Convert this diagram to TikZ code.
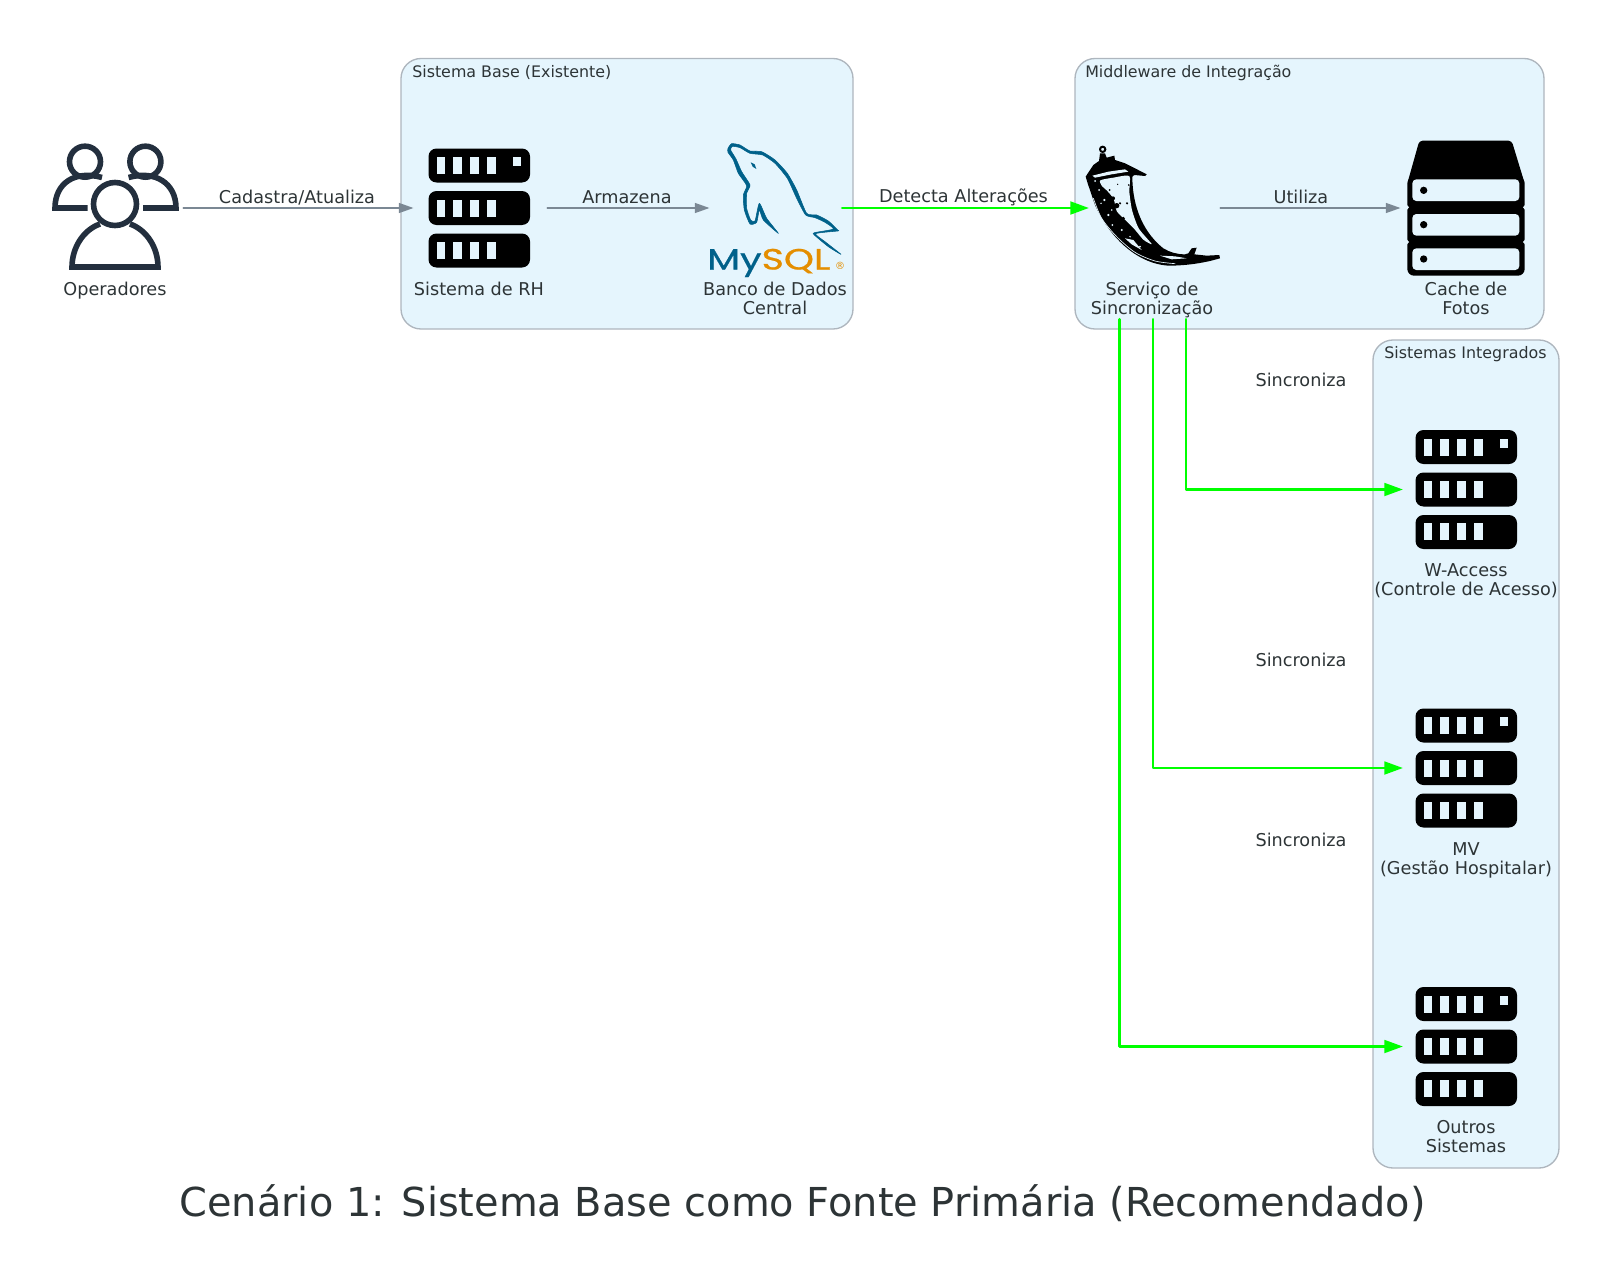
\documentclass[tikz,border=0pt]{standalone}
\usepackage{fontspec}
\setmainfont{DejaVu Sans}
\newfontfamily\logofont[FakeBold=0.7]{Poppins}
\usepackage{tikz}
\usetikzlibrary{arrows.meta,calc,positioning}
\definecolor{clusterfill}{HTML}{E5F5FD}
\definecolor{clusterline}{HTML}{AEB6BE}
\definecolor{labeltext}{HTML}{2D3436}
\definecolor{greyarrow}{HTML}{7B8894}
\definecolor{personblue}{HTML}{232F3E}
\definecolor{mysqlblue}{HTML}{00618A}
\definecolor{mysqlorange}{HTML}{E48E00}
\definecolor{syncgreen}{HTML}{00FF00}
\tikzset{
  clusterbox/.style={draw=clusterline,fill=clusterfill,line width=1pt,rounded corners=15pt},
  clusterlabel/.style={anchor=west,inner sep=0pt,text=labeltext,font=\fontsize{11.9}{14}\selectfont,text height=9pt,text depth=2.5pt},
  iconbox/.style={inner sep=0pt,minimum width=100.5pt,minimum height=166.5pt},
  nodelabel/.style={anchor=north,inner sep=0pt,text=labeltext,align=center,font=\fontsize{13.25}{14.2}\selectfont},
  edgelabel/.style={inner sep=0pt,text=labeltext,font=\fontsize{13.25}{14}\selectfont,text height=9.7pt,text depth=2.7pt},
  greyline/.style={draw=greyarrow,line width=1pt,shorten <=0.7pt,shorten >=-1.3pt,-{Triangle[length=11pt,width=7.5pt]}},
  syncline/.style={draw=syncgreen,line width=2.1pt,shorten >=-3.2pt,-{Triangle[length=14pt,width=9.5pt]}}
}
\newcommand{\servericon}[1]{
  \begin{scope}[shift={(#1)}]
    \foreach \racky in {-59.5,-17,25.5}
      \fill [black,rounded corners=6pt] (-50.5,\racky) rectangle (51,\racky+34);
    \foreach \racky in {-50.7,-8.5,33.7}
      \foreach \winx in {-42.5,-25.6,-8.8,8}
        \fill [clusterfill] (\winx,\racky) rectangle (\winx+8.6,\racky+17);
    \fill [clusterfill] (33.5,-50.7) rectangle (42,-42);
  \end{scope}
}
\begin{document}
\begin{tikzpicture}[x=0.75pt,y=-0.75pt,line cap=round,line join=round]
  \useasboundingbox (0,0) rectangle (1607,1281);
  % clusters
  \draw [clusterbox] (401,58.5) rectangle (853,329);
  \draw [clusterbox] (1075,58.5) rectangle (1544,329);
  \draw [clusterbox] (1373,340) rectangle (1559,1168);
  \node [clusterlabel] (baselabel) at (412,73) {Sistema Base (Existente)};
  \node [clusterlabel] (middlelabel) at (1085,73) {Middleware de Integração};
  \node [clusterlabel] (integradoslabel) at (1384,354.5) {Sistemas Integrados};
  % icon places
  \node [iconbox] (operadores) at (115,208) {};
  \node [iconbox] (rh) at (479,208) {};
  \node [iconbox] (mysql) at (775,208) {};
  \node [iconbox] (flask) at (1152,208) {};
  \node [iconbox] (cache) at (1466,208) {};
  \node [iconbox] (waccess) at (1466,489.5) {};
  \node [iconbox] (mv) at (1466,768) {};
  \node [iconbox] (outros) at (1466,1046.5) {};
  % connectors
  \draw [greyline] (operadores.east) -- node [edgelabel,above=0.4pt] (cadastra) {Cadastra/Atualiza} (rh.west);
  \draw [greyline] (rh.east) -- node [edgelabel,above=0.4pt] (armazena) {Armazena} (mysql.west);
  \draw [syncline] (mysql.east) -- node [edgelabel,above=0.4pt] (detecta) {Detecta Alterações} (flask.west);
  \draw [greyline] (flask.east) -- node [edgelabel,above=0.4pt,pos=0.455] (utiliza) {Utiliza} (cache.west);
  \draw [syncline] ($(flask.south)+(34,0)$) |- (waccess.west);
  \draw [syncline] ($(flask.south)+(1,0)$) |- (mv.west);
  \draw [syncline] ($(flask.south)+(-32.5,0)$) |- (outros.west);
  \node [edgelabel] (syncwaccess) at (1301,382) {Sincroniza};
  \node [edgelabel] (syncmv) at (1301,662) {Sincroniza};
  \node [edgelabel] (syncoutros) at (1301,842) {Sincroniza};
  % servers
  \servericon{rh.center}
  \servericon{waccess.center}
  \servericon{mv.center}
  \servericon{outros.center}
  % operators
  \begin{scope}[shift={(operadores.center)},draw=personblue,line width=4.2pt,line cap=butt,line join=miter]
    \draw (-30,-46.3) circle (15.5);
    \draw (30.4,-46.3) circle (15.5);
    \draw (-13,-30.5) .. controls (-40,-38) and (-60,-25) .. (-60,0) -- (-27.5,0);
    \draw (13.6,-30.5) .. controls (40,-38) and (61,-25) .. (61,0) -- (28,0);
    \draw (0,-4) circle (21.5);
    \draw (-15,16) .. controls (-32,22) and (-43,40) .. (-43,59) -- (43,59) .. controls (43,40) and (32,22) .. (15,16);
  \end{scope}
  % mysql logo
  \begin{scope}[shift={(700,135)},x=0.25pt,y=-0.25pt]
    \filldraw [mysqlblue,line width=0.4pt] plot [smooth cycle,tension=0.35] coordinates {(84,40) (95,26) (120,30) (150,48) (185,50) (225,75) (262,115) (290,165) (320,235) (350,240) (385,258) (413,285) (413,288) (347,296) (375,320) (423,358) (385,335) (343,300) (343,293) (400,282) (375,262) (345,248) (317,240) (290,190) (262,130) (225,85) (188,60) (150,55) (120,38) (97,34) (92,45) (108,72) (125,110) (150,150) (140,175) (140,220) (152,255) (165,258) (178,205) (200,250) (235,295) (190,255) (178,225) (170,262) (150,267) (133,225) (130,180) (140,152) (115,115) (100,75) (84,52)};
    \fill [mysqlblue] (152,82) -- (164,88) -- (169,102) -- (158,95) -- cycle;
  \end{scope}
  \node [inner sep=0pt,anchor=base west] (mysqlword) at (707,269.5) {\scalebox{1.3}[1]{\logofont\fontsize{22}{24}\selectfont\textcolor{mysqlblue}{My}\textcolor{mysqlorange}{SQL}}};
  \node [inner sep=0pt,anchor=center,text=mysqlorange,font=\fontsize{7.5}{8}\selectfont] (mysqlmark) at (840,266) {®};
  % flask horn
  \begin{scope}[shift={(1075,135)},x=0.25pt,y=-0.25pt]
    \draw [black,line width=1.5pt] (83,43) circle (8);
    \fill [black] (72,78) -- (75,55) -- (90,55) -- (95,68) -- (118,62) -- (120,75) -- (150,85) -- (180,100) -- (215,118) -- (210,123) -- (178,120) -- (172,125)
      .. controls (172,190) and (190,280) .. (265,340) .. controls (285,352) and (305,358) .. (330,358) -- (340,355) -- (350,340) -- (365,338) -- (358,358) -- (395,362) -- (433,360) -- (435,370) -- (405,378)
      .. controls (360,388) and (320,392) .. (280,392) .. controls (180,385) and (100,300) .. (60,210) -- (38,145) -- (32,125) -- (45,105) -- (55,90) -- cycle;
    \fill [clusterfill] plot [smooth cycle,tension=0.4] coordinates {(76,136) (115,128) (163,123) (163,170) (171,225) (191,280) (230,327) (205,314) (178,282) (148,252) (125,228) (116,192) (96,167) (80,152)};
    \fill [clusterfill] (52,122) -- (100,110) -- (150,103) -- (160,110) -- (110,118) -- (60,128) -- cycle;
    \draw [clusterfill,line width=0.5pt] plot [smooth,tension=0.5] coordinates {(55,190) (80,250) (125,305) (180,352) (240,378) (300,386)};
    \fill [clusterfill] (150,310) -- (175,315) -- (200,345) -- (170,328) -- cycle;
    \fill [clusterfill] (255,362) -- (300,364) -- (335,370) -- (290,373) -- cycle;
    \foreach \blotx/\bloty/\blotr in {125/212/8,114/190/6,135/205/3.5,156/205/3.5,161/150/2.5,104/165/3,145/250/5,180/305/4,128/148/2}
      \fill [black] (\blotx,\bloty) circle (\blotr);
    \foreach \fleckx/\flecky/\fleckr in {72/165/3,60/138/3,88/195/3.5,78/205/2.5,100/240/3.5,112/270/3,140/285/3.5,165/305/2.5,195/335/3,110/225/2.5}
      \fill [clusterfill] (\fleckx,\flecky) circle (\fleckr);
  \end{scope}
  % cache icon
  \begin{scope}[shift={(1380,120)},x=0.25pt,y=-0.25pt]
    \fill [black,rounded corners=2.5pt] (118,62) -- (395,62) -- (434,190) -- (82,190) -- cycle;
    \fill [black,rounded corners=5pt] (82,170) rectangle (434,467);
    \foreach \cachey in {262,366}
      \fill [clusterfill] (81,\cachey-7) -- (87,\cachey) -- (81,\cachey+7) -- cycle (435,\cachey-7) -- (429,\cachey) -- (435,\cachey+7) -- cycle;
    \foreach \cachey in {178,282,385}
      \fill [clusterfill,rounded corners=3pt] (97,\cachey) rectangle (418,\cachey+65);
    \foreach \cachey in {211,314,417}
      \fill [black] (131,\cachey) circle (11);
  \end{scope}
  % labels
  \node [nodelabel] (operadoreslabel) at ($(operadores.center)+(0,74)$) {Operadores};
  \node [nodelabel] (rhlabel) at ($(rh.center)+(0,74)$) {Sistema de RH};
  \node [nodelabel] (mysqllabel) at ($(mysql.center)+(0,74)$) {Banco de Dados\\Central};
  \node [nodelabel] (flasklabel) at ($(flask.center)+(0,74)$) {Serviço de\\Sincronização};
  \node [nodelabel] (cachelabel) at ($(cache.center)+(0,74)$) {Cache de\\Fotos};
  \node [nodelabel] (waccesslabel) at ($(waccess.center)+(0,74)$) {W-Access\\(Controle de Acesso)};
  \node [nodelabel] (mvlabel) at ($(mv.center)+(0,74)$) {MV\\(Gestão Hospitalar)};
  \node [nodelabel] (outroslabel) at ($(outros.center)+(0,74)$) {Outros\\Sistemas};
  \node [inner sep=0pt,text=labeltext,font=\fontsize{29.9}{34}\selectfont] (titulo) at (802.5,1203) {Cenário 1: Sistema Base como Fonte Primária (Recomendado)};
\end{tikzpicture}
\end{document}
